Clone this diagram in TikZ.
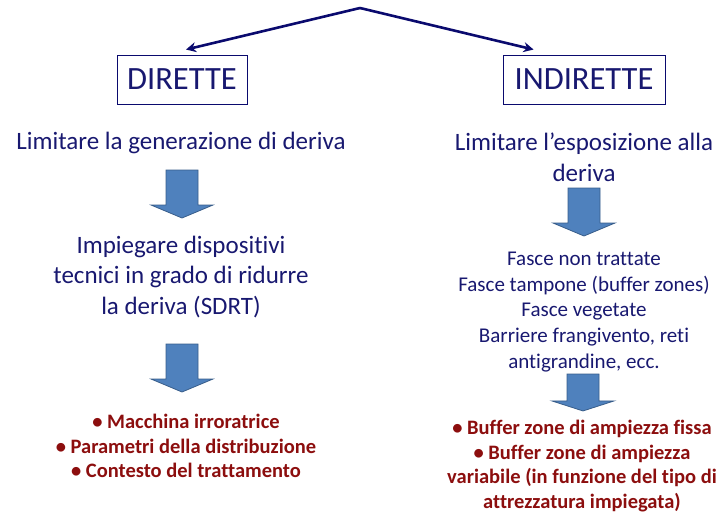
\documentclass[tikz,border=0pt]{standalone}
\usepackage{fontspec}
\setmainfont{Carlito}[Ligatures=NoCommon]
\usetikzlibrary{arrows.meta,positioning}
\definecolor{navytext}{RGB}{24,24,112}
\definecolor{navyline}{RGB}{10,10,110}
\definecolor{darkred}{RGB}{140,14,14}
\definecolor{arrfill}{RGB}{79,129,189}
\definecolor{arrdraw}{RGB}{56,93,138}

\begin{document}
\begin{tikzpicture}[x=1pt,y=-1pt,>=Stealth,
 head/.style={draw=navyline,line width=0.9pt,minimum width=#1,minimum height=49pt,inner sep=0pt,text=navytext,font=\fontsize{32.5}{38}\selectfont},
 txt/.style={align=center,inner sep=0pt,text=navytext,font=\fontsize{25}{30.5}\selectfont},
 small/.style={align=center,inner sep=0pt,text=navytext,font=\fontsize{21}{25.6}\selectfont},
 red/.style={align=center,inner sep=0pt,text=darkred,font=\fontsize{20.5}{24.6}\selectfont\bfseries},
 link/.style={->,draw=navyline,line width=2.6pt,arrows={-Stealth[length=10pt,width=10pt]}},
 blockarr/.pic={\draw[fill=arrfill,draw=arrdraw,line width=0.8pt]
   (-16,0) -- (16,0) -- (16,35) -- (31,35) -- (0,48) -- (-31,35) -- (-16,35) -- cycle;}]
\useasboundingbox (0,0) rectangle (725,516);
% titles
\coordinate (top) at (360,8);
\node[head=130pt] (dir) at (182,79.5) {DIRETTE};
\node[head=162pt] (ind) at (584,79.5) {INDIRETTE};
\draw[link] (top) -- ([xshift=4pt,yshift=5pt]dir.north);
\draw[link] (top) -- ([xshift=31pt,yshift=5pt]ind.north west);
% left column
\node[txt] (gen) at (181,143) {Limitare la generazione di deriva};
\pic at (182,170) {blockarr};
\node[txt] (sdrt) at (181,277) {Impiegare dispositivi\\tecnici in grado di ridurre\\la deriva (SDRT)};
\pic at (182,344) {blockarr};
\node[red] (lred) at (186,446) {• Macchina irroratrice\\• Parametri della distribuzione\\• Contesto del trattamento};
% right column
\node[txt] (esp) at (584,157.5) {Limitare l’esposizione alla\\deriva};
\pic at (584,188) {blockarr};
\node[small] (fasce) at (584,312) {Fasce non trattate\\Fasce tampone (buffer zones)\\Fasce vegetate\\Barriere frangivento, reti\\antigrandine, ecc.};
\pic[yscale=0.77] at (583,374) {blockarr};
\node[red] (rred) at (582,466) {• Buffer zone di ampiezza fissa\\• Buffer zone di ampiezza\\variabile (in funzione del tipo di\\attrezzatura impiegata)};
\end{tikzpicture}
\end{document}
